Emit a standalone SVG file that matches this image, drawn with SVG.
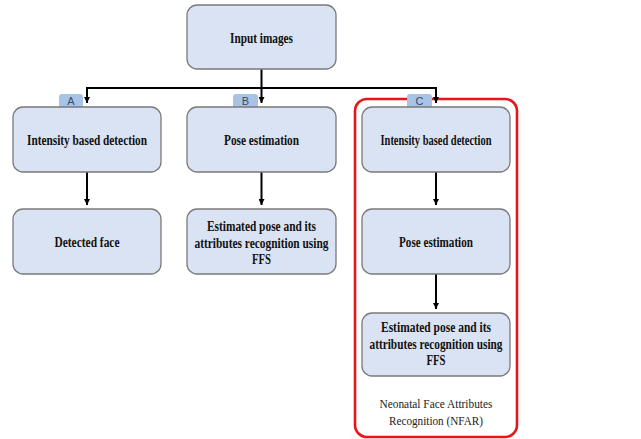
<svg xmlns="http://www.w3.org/2000/svg" width="641" height="439" viewBox="0 0 641 439">
<style>
.box{fill:#dae3f3;stroke:#7a7a7a;stroke-width:1.3}
.t{font-family:"Liberation Serif","Times New Roman",serif;font-weight:bold;font-size:14px;fill:#111;text-anchor:middle}
.n{font-family:"Liberation Serif","Times New Roman",serif;font-size:13px;fill:#222;text-anchor:middle}
.tab{fill:#a9c3e6}
.tl{font-family:"Liberation Sans",Arial,sans-serif;font-size:11px;fill:#3d4b5c;text-anchor:middle}
.c{fill:none;stroke:#000;stroke-width:2}
</style>
<defs>
<marker id="ah" viewBox="0 0 10 10" refX="10" refY="5" markerWidth="3" markerHeight="3" orient="auto" markerUnits="strokeWidth">
<path d="M0,0 L10,5 L0,10 z" fill="#000"/>
</marker>
</defs>
<rect width="641" height="439" fill="#fff"/>
<g id="nfar">
<rect x="355" y="99" width="162" height="338" rx="12" fill="none" stroke="#e8161b" stroke-width="2.6"/>
<text class="n" x="436" y="408" textLength="113" lengthAdjust="spacingAndGlyphs">Neonatal Face Attributes</text>
<text class="n" x="436" y="425" textLength="94" lengthAdjust="spacingAndGlyphs">Recognition (NFAR)</text>
</g>
<g id="tabs">
<g id="tabA"><path class="tab" d="M59,108 V97 Q59,94 62,94 H80 Q83,94 83,97 V108 z"/><text class="tl" x="71" y="105">A</text></g>
<g id="tabB"><path class="tab" d="M233,108 V97 Q233,94 236,94 H255 Q258,94 258,97 V108 z"/><text class="tl" x="245.5" y="105">B</text></g>
<g id="tabC"><path class="tab" d="M407,108 V97 Q407,94 410,94 H429 Q432,94 432,97 V108 z"/><text class="tl" x="419.5" y="105">C</text></g>
</g>
<g id="connectors">
<path class="c" d="M261.5,69 V103" marker-end="url(#ah)"/>
<path class="c" d="M87,88 H436"/>
<path class="c" d="M87,87 V103" marker-end="url(#ah)"/>
<path class="c" d="M436,87 V103" marker-end="url(#ah)"/>
<path class="c" d="M87,172 V205" marker-end="url(#ah)"/>
<path class="c" d="M261.5,172 V205" marker-end="url(#ah)"/>
<path class="c" d="M436,172 V205" marker-end="url(#ah)"/>
<path class="c" d="M436,274 V309" marker-end="url(#ah)"/>
</g>
<g id="input">
<rect class="box" x="187" y="5" width="149" height="64" rx="10"/>
<text class="t" x="261.5" y="42.5" textLength="63" lengthAdjust="spacingAndGlyphs">Input images</text>
</g>
<g id="a1">
<rect class="box" x="13" y="107" width="148" height="65" rx="10"/>
<text class="t" x="87" y="145" textLength="120" lengthAdjust="spacingAndGlyphs">Intensity based detection</text>
</g>
<g id="b1">
<rect class="box" x="187" y="107" width="149" height="65" rx="10"/>
<text class="t" x="261.5" y="145" textLength="75" lengthAdjust="spacingAndGlyphs">Pose estimation</text>
</g>
<g id="c1">
<rect class="box" x="362" y="107" width="148" height="65" rx="10"/>
<text class="t" x="436" y="145" textLength="111" lengthAdjust="spacingAndGlyphs">Intensity based detection</text>
</g>
<g id="a2">
<rect class="box" x="13" y="209" width="148" height="65" rx="10"/>
<text class="t" x="87" y="247" textLength="65" lengthAdjust="spacingAndGlyphs">Detected face</text>
</g>
<g id="b2">
<rect class="box" x="187" y="209" width="149" height="65" rx="10"/>
<text class="t" x="261.5" y="231" textLength="109" lengthAdjust="spacingAndGlyphs">Estimated pose and its</text>
<text class="t" x="261.5" y="248" textLength="134" lengthAdjust="spacingAndGlyphs">attributes recognition using</text>
<text class="t" x="261.5" y="264" textLength="19" lengthAdjust="spacingAndGlyphs">FFS</text>
</g>
<g id="c2">
<rect class="box" x="362" y="209" width="148" height="65" rx="10"/>
<text class="t" x="436" y="247" textLength="74" lengthAdjust="spacingAndGlyphs">Pose estimation</text>
</g>
<g id="c3">
<rect class="box" x="362" y="313" width="148" height="63" rx="10"/>
<text class="t" x="436" y="332" textLength="110" lengthAdjust="spacingAndGlyphs">Estimated pose and its</text>
<text class="t" x="436" y="349" textLength="133" lengthAdjust="spacingAndGlyphs">attributes recognition using</text>
<text class="t" x="436" y="365" textLength="19" lengthAdjust="spacingAndGlyphs">FFS</text>
</g>
</svg>
